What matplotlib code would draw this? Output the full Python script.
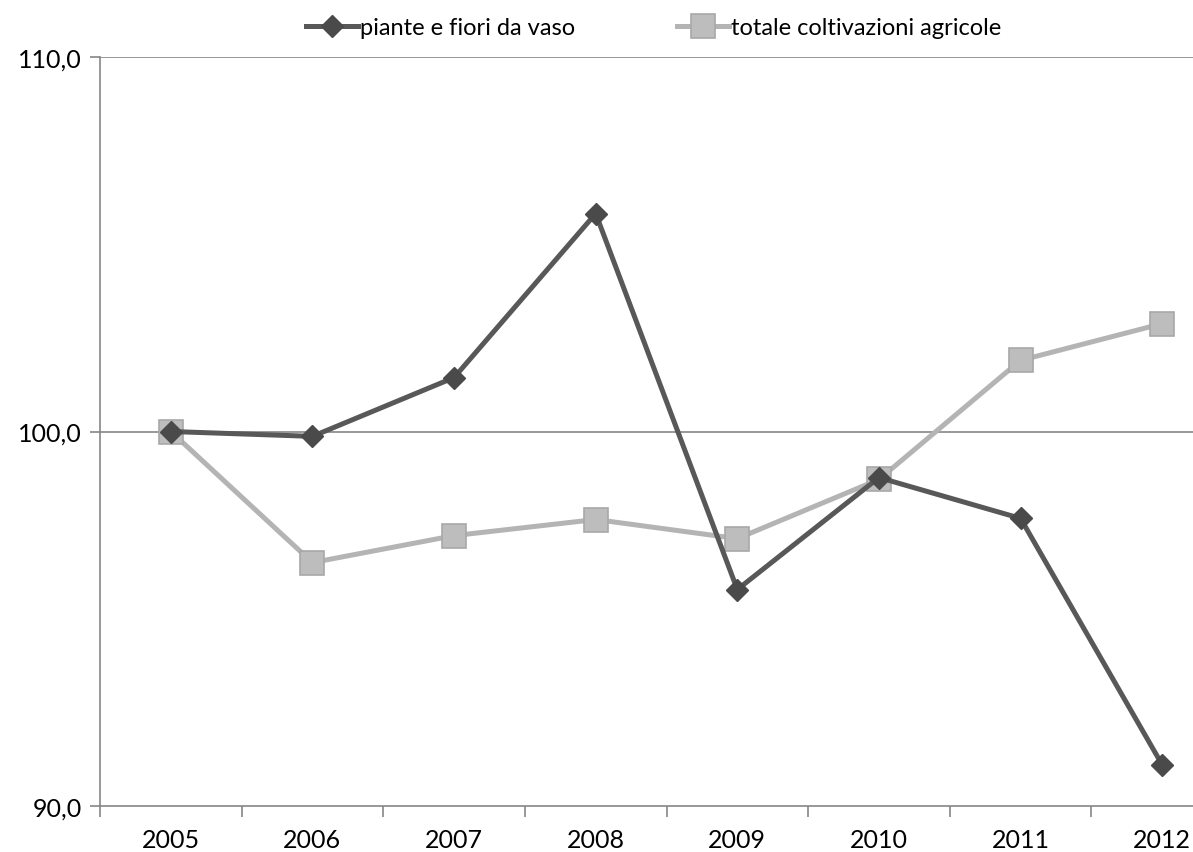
import matplotlib.pyplot as plt
import numpy as np

anni = ["2005", "2006", "2007", "2008", "2009", "2010", "2011", "2012"]
piante_fiori = [100.0, 99.87, 101.44, 105.82, 95.78, 98.77, 97.68, 91.1]
totale_coltivazioni = [100.0, 96.5, 97.22, 97.65, 97.14, 98.72, 101.9, 102.88]

plt.rcParams['font.family'] = ['Lato', 'DejaVu Sans']

fig = plt.figure(figsize=(11.93, 8.53), dpi=100)
# the original chart is cut off on the right, so the axes run past the figure edge
ax = fig.add_axes([100 / 1193, 46 / 853, 1133 / 1193, 749 / 853])

x = np.arange(len(anni))
ax.plot(x, piante_fiori, color="#585858", lw=3.6, marker="D", ms=11,
        mfc="#4a4a4a", mec="#4a4a4a", label="piante e fiori da vaso", zorder=3)
ax.plot(x, totale_coltivazioni, color="#b4b4b4", lw=3.6, marker="s", ms=17,
        mfc="#bdbdbd", mec="#a8a8a8", mew=1.2, label="totale coltivazioni agricole", zorder=2)

ax.set_xlim(-0.5, len(anni) - 0.5)
ax.set_ylim(90, 110)
ax.set_yticks([90, 100, 110])
ax.set_yticklabels(["90,0", "100,0", "110,0"], fontsize=18)
ax.set_xticks(x)
ax.set_xticklabels(anni, fontsize=18)
ax.set_xticks(np.arange(-0.5, len(anni)), minor=True)
ax.tick_params(axis="x", which="major", length=0, pad=16)
ax.tick_params(axis="x", which="minor", length=8, width=1.2, color="#868686")
ax.tick_params(axis="y", length=7.2, width=1.2, color="#868686", pad=6)

for v in [100, 110]:
    ax.axhline(v, color="#868686", lw=1.2, zorder=1)

for side in ["top", "right"]:
    ax.spines[side].set_visible(False)
for side in ["left", "bottom"]:
    ax.spines[side].set_color("#868686")
    ax.spines[side].set_linewidth(1.2)

fig.legend(loc="upper center", bbox_to_anchor=(0.548, 1.004), ncol=2, frameon=False,
           fontsize=17, handlelength=2.2, columnspacing=4.3, handletextpad=0.1)

fig.savefig("out.png", dpi=100)
